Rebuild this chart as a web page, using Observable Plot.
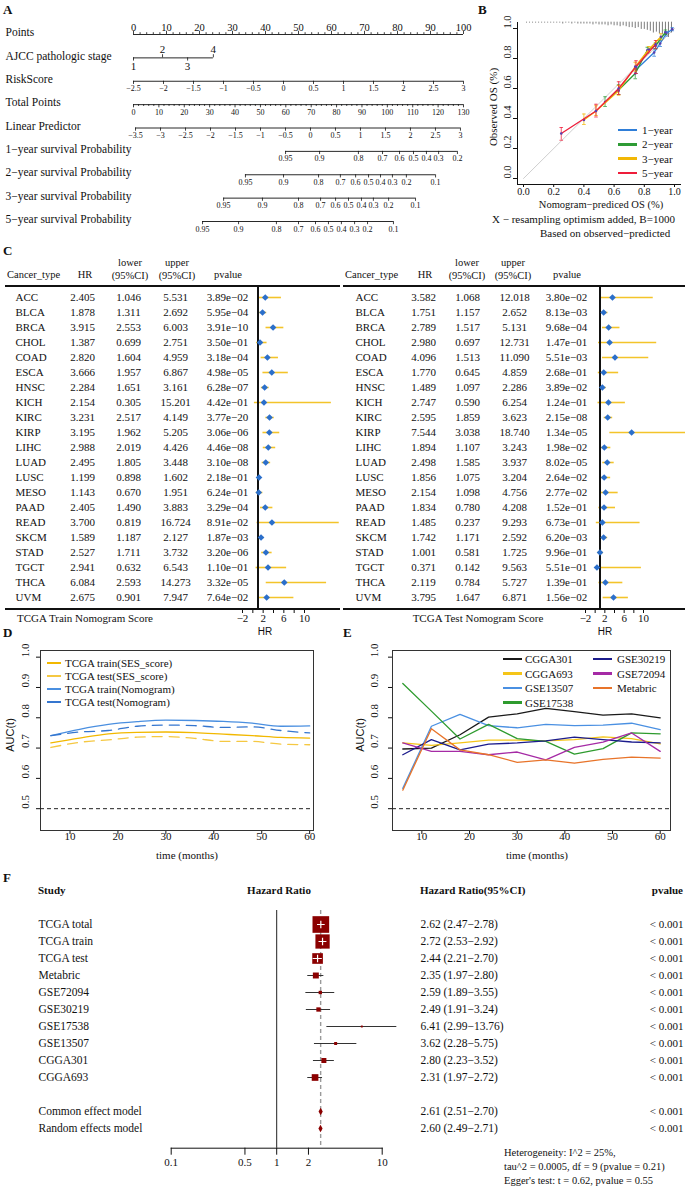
<!DOCTYPE html>
<html><head><meta charset="utf-8">
<script src="https://cdn.jsdelivr.net/npm/d3@7"></script>
<script src="https://cdn.jsdelivr.net/npm/@observablehq/plot@0.6"></script>
<style>
html,body{margin:0;padding:0;background:#fff;}
#root{position:relative;width:685px;height:1188px;overflow:hidden;background:#fff;font-family:'Liberation Serif','Times New Roman',serif;color:#111;}
.lbl{position:absolute;white-space:nowrap;line-height:1;}
#root svg{overflow:visible;}
</style></head><body><div id="root"></div>
<script>
const SERIF = "'Liberation Serif','DejaVu Serif',serif";
const SANS = "'Liberation Sans','DejaVu Sans',sans-serif";
const root = document.getElementById("root");

// ================= DATA =================
// Panel A nomogram
const nomoRows = ["Points","AJCC pathologic stage","RiskScore","Total Points","Linear Predictor",
  "1−year survival Probability","2−year survival Probability","3−year survival Probability","5−year survival Probability"];
const pointsTicks = [0,10,20,30,40,50,60,70,80,90,100];
const stageLabels = ["1","2","3","4"];
const stagePoints = [0, 8.8, 16.4, 24.2];
const riskTicks = [-2.5,-2,-1.5,-1,-0.5,0,0.5,1,1.5,2,2.5,3];
const totalTicks = [0,10,20,30,40,50,60,70,80,90,100,110,120,130];
const lpTicks = [-3.5,-3,-2.5,-2,-1.5,-1,-0.5,0,0.5,1,1.5,2,2.5,3];
const lpTotalSpan = [0.8, 128.8];
const surv1Labels = [0.95,0.9,0.8,0.7,0.6,0.5,0.4,0.3,0.2];
const surv1Total = [59.9,73.3,88.6,98.1,104.8,110.3,115.4,120.2,127.6];
const survLabels = [0.95,0.9,0.8,0.7,0.6,0.5,0.4,0.3,0.2,0.1];
const surv2Total = [44.1,59.1,72.9,81.5,87.5,92.6,97.3,102.0,107.5,119.0];
const surv3Total = [35.5,50.8,65.0,73.7,79.6,84.7,89.8,94.5,100.5,111.1];
const surv5Total = [27.2,41.4,56.3,65.0,71.7,76.8,81.9,87.1,92.2,102.4];

// Panel B calibration
const calYears = ["1−year","2−year","3−year","5−year"];
const calColors = ["#2F7ED8","#2E9B35","#F2B705","#EE1D3A"];
const cal1Pred = [0.745,0.865,0.905,0.945,0.985];
const cal1Obs  = [0.725,0.840,0.900,0.965,0.995];
const cal1Lo   = [0.700,0.815,0.880,0.950,0.985];
const cal1Hi   = [0.750,0.865,0.920,0.980,1.005];
const cal2Pred = [0.540,0.630,0.740,0.820,0.875,0.940];
const cal2Obs  = [0.510,0.590,0.700,0.855,0.885,0.975];
const cal2Lo   = [0.480,0.560,0.665,0.835,0.865,0.960];
const cal2Hi   = [0.545,0.625,0.735,0.875,0.905,0.990];
const cal3Pred = [0.400,0.480,0.630,0.740,0.830,0.910];
const cal3Obs  = [0.390,0.450,0.585,0.745,0.860,0.945];
const cal3Lo   = [0.360,0.420,0.555,0.715,0.840,0.925];
const cal3Hi   = [0.430,0.485,0.620,0.775,0.880,0.965];
const cal5Pred = [0.250,0.480,0.630,0.745,0.875];
const cal5Obs  = [0.300,0.450,0.600,0.745,0.895];
const cal5Lo   = [0.255,0.410,0.560,0.700,0.865];
const cal5Hi   = [0.340,0.495,0.645,0.785,0.920];
const rugBins = d3.range(0.02, 0.99, 0.02);
const rugCounts = [1,1,1,1,1,1,1,1,1,1, 1,1,2,1,1,2,1,2,2,2, 2,2,3,2,3,3,3,4,3,4, 4,5,4,5,6,6,7,6,8,8, 9,10,12,11,13,14,16,17,12];
const calTicks = [0,0.2,0.4,0.6,0.8,1];
const idealLine = [0,1];

// Panel C tables
const cancerTypes = ["ACC","BLCA","BRCA","CHOL","COAD","ESCA","HNSC","KICH","KIRC","KIRP","LIHC","LUAD","LUSC","MESO","PAAD","READ","SKCM","STAD","TGCT","THCA","UVM"];
const trainHR    = [2.405,1.878,3.915,1.387,2.820,3.666,2.284,2.154,3.231,3.195,2.988,2.495,1.199,1.143,2.405,3.700,1.589,2.527,2.941,6.084,2.675];
const trainLower = [1.046,1.311,2.553,0.699,1.604,1.957,1.651,0.305,2.517,1.962,2.019,1.805,0.898,0.670,1.490,0.819,1.187,1.711,0.632,2.593,0.901];
const trainUpper = [5.531,2.692,6.003,2.751,4.959,6.867,3.161,15.201,4.149,5.205,4.426,3.448,1.602,1.951,3.883,16.724,2.127,3.732,6.543,14.273,7.947];
const trainP     = [3.89e-2,5.95e-4,3.91e-10,3.50e-1,3.18e-4,4.98e-5,6.28e-7,4.42e-1,3.77e-20,3.06e-6,4.46e-8,3.10e-8,2.18e-1,6.24e-1,3.29e-4,8.91e-2,1.87e-3,3.20e-6,1.10e-1,3.32e-5,7.64e-2];
const testHR     = [3.582,1.751,2.789,2.980,4.096,1.770,1.489,2.747,2.595,7.544,1.894,2.498,1.856,2.154,1.834,1.485,1.742,1.001,0.371,2.119,3.795];
const testLower  = [1.068,1.157,1.517,0.697,1.513,0.645,1.097,0.590,1.859,3.038,1.107,1.585,1.075,1.098,0.780,0.237,1.171,0.581,0.142,0.784,1.647];
const testUpper  = [12.018,2.652,5.131,12.731,11.090,4.859,2.286,6.254,3.623,18.740,3.243,3.937,3.204,4.756,4.208,9.293,2.592,1.725,9.563,5.727,6.871];
const testP      = [3.80e-2,8.13e-3,9.68e-4,1.47e-1,5.51e-3,2.68e-1,3.89e-2,1.24e-1,2.15e-8,1.34e-5,1.98e-2,8.02e-5,2.64e-2,2.77e-2,1.52e-1,6.73e-1,6.20e-3,9.96e-1,5.51e-1,1.39e-1,1.56e-2];
const hrTicks = [-2,0,2,4,6,8,10];
const hrTickLabels = [-2,2,6,10];

// Panel D / E time-dependent AUC
const aucTimes = [6,12,18,24,30,36,42,48,54,60];
const aucXTicks = [10,20,30,40,50,60];
const aucYTicks = [0.5,0.6,0.7,0.8,0.9,1.0];
const dNames = ["TCGA train(SES_score)","TCGA test(SES_score)","TCGA train(Nomogram)","TCGA test(Nomogram)"];
const dColors = ["#F2B800","#F5C842","#4A8FE0","#3576CF"];
const dDashed = [false,true,false,true];
const trainSES   = [0.717,0.733,0.747,0.752,0.753,0.751,0.746,0.741,0.735,0.733];
const testSES    = [0.702,0.719,0.727,0.736,0.738,0.732,0.722,0.722,0.713,0.711];
const trainNomo  = [0.741,0.762,0.778,0.787,0.792,0.791,0.788,0.782,0.772,0.773];
const testNomo   = [0.741,0.753,0.758,0.772,0.776,0.774,0.768,0.770,0.758,0.750];
const eNames = ["CGGA301","CGGA693","GSE13507","GSE17538","GSE30219","GSE72094","Metabric"];
const eColors = ["#1A1A1A","#F5C518","#4A90E2","#2E9B2E","#1C1C8C","#A52AA5","#E8742A"];
const aucCGGA301  = [0.697,0.700,0.744,0.802,0.813,0.831,0.820,0.809,0.813,0.800];
const aucCGGA693  = [0.717,0.709,0.717,0.726,0.726,0.724,0.728,0.737,0.731,0.714];
const aucGSE13507 = [0.567,0.772,0.811,0.774,0.767,0.778,0.774,0.776,0.782,0.761];
const aucGSE17538 = [0.913,0.822,0.730,0.778,0.731,0.722,0.680,0.698,0.750,0.747];
const aucGSE30219 = [0.678,0.728,0.694,0.713,0.717,0.724,0.736,0.728,0.720,0.717];
const aucGSE72094 = [0.717,0.689,0.689,0.678,0.687,0.661,0.702,0.720,0.750,0.689];
const aucMetabric = [0.561,0.764,0.694,0.678,0.653,0.661,0.650,0.663,0.670,0.667];

// Panel F meta-analysis forest
const studies = ["TCGA total","TCGA train","TCGA test","Metabric","GSE72094","GSE30219","GSE17538","GSE13507","CGGA301","CGGA693"];
const studyHR = [2.62,2.72,2.44,2.35,2.59,2.49,6.41,3.62,2.80,2.31];
const studyLo = [2.47,2.53,2.21,1.97,1.89,1.91,2.99,2.28,2.23,1.97];
const studyHi = [2.78,2.92,2.70,2.80,3.55,3.24,13.76,5.75,3.52,2.72];
const studyWeight = [37.4,27.4,15.3,4.8,1.5,2.5,0.5,1.2,3.4,6.0];
const models = ["Common effect model","Random effects model"];
const modelHR = [2.61,2.60];
const modelLo = [2.51,2.49];
const modelHi = [2.70,2.71];
const pLabel = "< 0.001";
const forestTicks = [0.1,0.5,1,2,10];

// ================= HELPERS =================
function label(text, x, y, o = {}) {
  const d = document.createElement("div");
  d.className = "lbl";
  d.textContent = text;
  d.style.left = x + "px"; d.style.top = y + "px";
  d.style.fontSize = (o.size || 11) + "px";
  d.style.fontFamily = o.family || SERIF;
  if (o.weight) d.style.fontWeight = o.weight;
  if (o.color) d.style.color = o.color;
  const tx = o.anchor === "middle" ? "-50%" : o.anchor === "end" ? "-100%" : "0";
  d.style.transform = `translate(${tx},-50%)` + (o.rotate ? ` rotate(${o.rotate}deg)` : "");
  root.appendChild(d);
}
function hline(x, y, w, t, color = "#111") {
  const d = document.createElement("div");
  d.style.cssText = `position:absolute;left:${x}px;top:${y - t / 2}px;width:${w}px;height:${t}px;background:${color};`;
  root.appendChild(d);
}
function place(el, x, y) {
  el.style.position = "absolute"; el.style.left = x + "px"; el.style.top = y + "px";
  root.appendChild(el);
}
const baseStyle = (size) => ({fontFamily: SERIF, fontSize: size + "px", background: "transparent", overflow: "visible", color: "#111"});
const minus = (v) => (v < 0 ? "−" + String(-v) : String(v));
function fmtP(p) {
  const [m, e] = p.toExponential(2).split("e");
  const n = +e;
  return m + "e" + (n < 0 ? "−" : "+") + String(Math.abs(n)).padStart(2, "0");
}

// ================= PANEL A =================
{
  const toPts = (total) => total * 100 / totalTicks[totalTicks.length - 1];
  const riskPts = (v) => (v - riskTicks[0]) / (riskTicks[riskTicks.length - 1] - riskTicks[0]) * 100;
  const lpPts = (v) => toPts(lpTotalSpan[0] + (v - lpTicks[0]) / (lpTicks[lpTicks.length - 1] - lpTicks[0]) * (lpTotalSpan[1] - lpTotalSpan[0]));
  const ticks = [];
  pointsTicks.forEach(v => ticks.push({row: 0, pos: v, label: String(v), side: -1}));
  d3.range(0, 101, 2).filter(v => !pointsTicks.includes(v)).forEach(v => ticks.push({row: 0, pos: v, label: null, side: -1, minor: true}));
  stageLabels.forEach((s, i) => ticks.push({row: 1, pos: stagePoints[i], label: s, side: i % 2 ? -1 : 1}));
  riskTicks.forEach(v => ticks.push({row: 2, pos: riskPts(v), label: minus(v), side: 1}));
  totalTicks.forEach(v => ticks.push({row: 3, pos: toPts(v), label: String(v), side: 1}));
  d3.range(0, 131, 2).filter(v => !totalTicks.includes(v)).forEach(v => ticks.push({row: 3, pos: toPts(v), label: null, side: 1, minor: true}));
  lpTicks.forEach(v => ticks.push({row: 4, pos: lpPts(v), label: minus(v), side: 1}));
  surv1Labels.forEach((v, i) => ticks.push({row: 5, pos: toPts(surv1Total[i]), label: String(v), side: 1}));
  survLabels.forEach((v, i) => ticks.push({row: 6, pos: toPts(surv2Total[i]), label: String(v), side: 1}));
  survLabels.forEach((v, i) => ticks.push({row: 7, pos: toPts(surv3Total[i]), label: String(v), side: 1}));
  survLabels.forEach((v, i) => ticks.push({row: 8, pos: toPts(surv5Total[i]), label: String(v), side: 1}));
  const lines = d3.rollups(ticks, v => d3.extent(v, d => d.pos), d => d.row).map(([row, [a, b]]) => ({row, from: a, to: b}));
  const rowPx = (221 - 34) / 8;
  const labeled = ticks.filter(d => d.label !== null);
  const A = Plot.plot({
    width: 470, height: 235, marginLeft: 0, marginRight: 0, marginTop: 0, marginBottom: 0,
    style: baseStyle(11),
    x: {domain: [0, 100], range: [133, 463], axis: null},
    y: {domain: [0, 8], range: [34, 221], axis: null},
    marks: [
      Plot.ruleY(lines, {y: "row", x1: "from", x2: "to", strokeWidth: 0.9}),
      Plot.ruleX(ticks, {x: "pos", y1: "row", y2: d => d.row + d.side * (d.minor ? 1.8 : 3.2) / rowPx, strokeWidth: 0.8}),
      Plot.text(labeled.filter(d => d.row === 0), {x: "pos", y: "row", text: "label", dy: -7, fontSize: 10.5}),
      Plot.text(labeled.filter(d => d.row === 1 && d.side < 0), {x: "pos", y: "row", text: "label", dy: -8, fontSize: 11}),
      Plot.text(labeled.filter(d => d.row === 1 && d.side > 0), {x: "pos", y: "row", text: "label", dy: 8.5, fontSize: 11}),
      Plot.text(labeled.filter(d => d.row > 1), {x: "pos", y: "row", text: "label", dy: 7.5, fontSize: 8}),
      Plot.text(nomoRows, {y: (d, i) => i, text: d => d, frameAnchor: "left", dx: 5, dy: -2, textAnchor: "start", fontSize: 11.5})
    ]
  });
  place(A, 0, 0);
  label("A", 3, 9, {weight: "bold", size: 13});
}

// ================= PANEL B =================
{
  const preds = [cal1Pred, cal2Pred, cal3Pred, cal5Pred];
  const obs = [cal1Obs, cal2Obs, cal3Obs, cal5Obs];
  const los = [cal1Lo, cal2Lo, cal3Lo, cal5Lo];
  const his = [cal1Hi, cal2Hi, cal3Hi, cal5Hi];
  const series = calYears.map((yr, k) => ({
    color: calColors[k],
    pts: preds[k].map((p, i) => ({pred: p, obs: obs[k][i], lo: los[k][i], hi: his[k][i]}))
  }));
  const rug = rugBins.map((x, i) => ({x, n: rugCounts[i]}));
  const rugTop = 1.042;
  const cap = 0.012;
  const B = Plot.plot({
    width: 210, height: 240, marginLeft: 42, marginRight: 5, marginTop: 22, marginBottom: 56,
    style: baseStyle(10),
    x: {domain: [0, 1], insetLeft: 6, insetRight: 6, ticks: calTicks, tickFormat: d3.format(".1f"), tickSize: 3, tickPadding: 0, line: true, label: null},
    y: {domain: [0, 1], insetTop: 6, insetBottom: 6, ticks: calTicks, tickFormat: () => "", tickSize: 4, line: true, label: null},
    marks: [
      Plot.line(idealLine, {x: d => d, y: d => d, stroke: "#cfcfcf", strokeWidth: 1}),
      Plot.ruleX(rug, {x: "x", y1: rugTop, y2: d => rugTop - d.n * 0.006, strokeWidth: 0.6, stroke: "#222"}),
      ...series.flatMap(s => [
        Plot.ruleX(s.pts, {x: "pred", y1: "lo", y2: "hi", stroke: s.color, strokeOpacity: 0.75}),
        Plot.link(s.pts, {x1: d => d.pred - cap, x2: d => d.pred + cap, y1: "lo", y2: "lo", stroke: s.color, strokeOpacity: 0.75}),
        Plot.link(s.pts, {x1: d => d.pred - cap, x2: d => d.pred + cap, y1: "hi", y2: "hi", stroke: s.color, strokeOpacity: 0.75}),
        Plot.line(s.pts, {x: "pred", y: "obs", stroke: s.color, strokeWidth: 1.3}),
        Plot.dot(s.pts, {x: "pred", y: "obs", r: 1.3, fill: "#5b3fb0"})
      ]),
      Plot.text(calTicks, {y: d => d, frameAnchor: "left", dx: -10, rotate: -90, text: d => d.toFixed(1), fontSize: 10.5})
    ]
  });
  place(B, 475, 0);
  label("B", 478, 9, {weight: "bold", size: 13});
  label("Observed OS (%)", 493, 107, {anchor: "middle", rotate: -90, size: 11});
  label("Nomogram−prediced OS (%)", 601, 205, {anchor: "middle", size: 10.5});
  label("X − resampling optimism added, B=1000", 492, 219, {size: 11});
  label("Based on observed−predicted", 540, 232.5, {size: 11});
  calYears.forEach((yr, i) => {
    const y = 130 + i * 14.3;
    hline(618, y, 19, 2.5, calColors[i]);
    label(yr, 642, y, {size: 11});
  });
}

// ================= PANEL C =================
function tablePlot(hr, lo, hi, p, o) {
  const rows = cancerTypes.map((name, i) => ({name, hr: hr[i], lo: lo[i], hi: hi[i], p: p[i]}));
  const col = (text, dx, anchor) => Plot.text(rows, {y: "name", text, frameAnchor: "left", dx, textAnchor: anchor, fontSize: 11});
  return Plot.plot({
    width: o.width, height: 390, marginLeft: o.marginLeft, marginRight: 0, marginTop: 36, marginBottom: 31,
    style: baseStyle(11),
    x: {domain: [-2, 10], range: o.range, ticks: hrTicks, tickFormat: d => hrTickLabels.includes(d) ? minus(d) : "", tickSize: 4, tickPadding: 1, label: null},
    y: {type: "point", domain: cancerTypes, range: [43, 350], padding: 0, axis: null},
    marks: [
      Plot.ruleY(rows, {y: "name", x1: "lo", x2: "hi", stroke: "#F3C42A", strokeWidth: 1.6, clip: true}),
      Plot.ruleX([1], {strokeWidth: 2, stroke: "#111"}),
      Plot.dot(rows, {x: "hr", y: "name", symbol: "diamond2", r: 3, fill: "#2B6FCB", clip: true}),
      col("name", o.cols[0], "start"),
      col(d => d.hr.toFixed(3), o.cols[1], "middle"),
      col(d => d.lo.toFixed(3), o.cols[2], "middle"),
      col(d => d.hi.toFixed(3), o.cols[3], "middle"),
      col(d => fmtP(d.p), o.cols[4], "middle")
    ]
  });
}
{
  const L = tablePlot(trainHR, trainLower, trainUpper, trainP, {width: 340, marginLeft: 5, range: [242, 304], cols: [10, 77, 123, 170, 222]});
  place(L, 0, 250);
  const R = tablePlot(testHR, testLower, testUpper, testP, {width: 345, marginLeft: 3, range: [245, 303], cols: [12, 80, 124, 171, 223]});
  place(R, 340, 250);
  label("C", 3, 250, {weight: "bold", size: 13});
  const hdr = (x0, xs) => {
    label("Cancer_type", x0, 275, {size: 10.5});
    label("HR", xs[0], 275, {anchor: "middle", size: 10.5});
    label("lower", xs[1], 263, {anchor: "middle", size: 10.5});
    label("(95%CI)", xs[1], 276, {anchor: "middle", size: 10.5});
    label("upper", xs[2], 263, {anchor: "middle", size: 10.5});
    label("(95%CI)", xs[2], 276, {anchor: "middle", size: 10.5});
    label("pvalue", xs[3], 275, {anchor: "middle", size: 10.5});
  };
  hdr(7, [85, 130, 177, 228]);
  hdr(345, [425, 467, 513, 567]);
  hline(5, 286, 335, 2);
  hline(5, 609, 335, 2);
  hline(343, 286, 342, 2);
  hline(343, 609, 342, 2);
  label("TCGA Train Nomogram Score", 85, 618, {anchor: "middle", size: 11});
  label("TCGA Test Nomogram Score", 478, 618, {anchor: "middle", size: 11});
  label("HR", 265, 632, {anchor: "middle", size: 10, family: SANS});
  label("HR", 605, 632, {anchor: "middle", size: 10, family: SANS});
}

// ================= PANELS D & E =================
function aucPlot(series, o) {
  return Plot.plot({
    width: o.width, height: 225, marginLeft: o.marginLeft, marginRight: o.marginRight, marginTop: 10, marginBottom: 35,
    style: baseStyle(11),
    x: {domain: o.xDomain, ticks: aucXTicks, tickSize: 4, tickFormat: () => "", label: null},
    y: {domain: [0.428, 1.022], ticks: aucYTicks, tickSize: 4, tickFormat: () => "", label: null},
    marks: [
      Plot.frame({stroke: "#333"}),
      Plot.ruleY([0.5], {stroke: "#222", strokeDasharray: "4,3"}),
      ...series.map(s => Plot.line(aucTimes.map((t, i) => ({t, v: s.values[i]})), {
        x: "t", y: "v", stroke: s.color, strokeWidth: 1.3, curve: o.curve,
        strokeDasharray: s.dashed ? "10,7" : null
      })),
      Plot.text(aucXTicks, {x: d => d, text: d => String(d), frameAnchor: "bottom", dy: 9, fontSize: 11}),
      Plot.text(aucYTicks, {y: d => d, text: d => d.toFixed(1), frameAnchor: "left", dx: o.yLabelDx, rotate: -90, fontSize: 11})
    ]
  });
}
{
  const dVals = [trainSES, testSES, trainNomo, testNomo];
  const D = aucPlot(dNames.map((n, i) => ({color: dColors[i], dashed: dDashed[i], values: dVals[i]})),
    {width: 340, marginLeft: 40, marginRight: 27, xDomain: [3.84, 60.8], curve: "monotone-x", yLabelDx: -15});
  place(D, 0, 640);
  label("D", 3, 632, {weight: "bold", size: 13});
  label("AUC(t)", 10, 735, {anchor: "middle", rotate: -90, size: 11, family: SANS});
  label("time (months)", 187, 855, {anchor: "middle", size: 11});
  dNames.forEach((n, i) => {
    const y = 663 + i * 13;
    hline(47, y, 14, 2.5, dColors[i]);
    label(n, 65, y, {size: 11});
  });

  const eVals = [aucCGGA301, aucCGGA693, aucGSE13507, aucGSE17538, aucGSE30219, aucGSE72094, aucMetabric];
  const E = aucPlot(eNames.map((n, i) => ({color: eColors[i], dashed: false, values: eVals[i]})),
    {width: 345, marginLeft: 52, marginRight: 15, xDomain: [3.84, 62.16], curve: "linear", yLabelDx: -18.5});
  place(E, 340, 640);
  label("E", 343, 632, {weight: "bold", size: 13});
  label("AUC(t)", 360, 735, {anchor: "middle", rotate: -90, size: 11, family: SANS});
  label("time (months)", 537, 855, {anchor: "middle", size: 11});
  eNames.forEach((n, i) => {
    const colI = i < 4 ? 0 : 1;
    const rowI = i < 4 ? i : i - 4;
    const y = 659 + rowI * 14.5;
    const x0 = colI ? 593 : 503;
    hline(x0, y, 19, 2.5, eColors[i]);
    label(n, x0 + (colI ? 24 : 22), y, {size: 11});
  });
}

// ================= PANEL F =================
{
  const sRows = studies.map((name, i) => ({name, hr: studyHR[i], lo: studyLo[i], hi: studyHi[i], w: studyWeight[i], p: pLabel}));
  const mRows = models.map((name, i) => ({name, hr: modelHR[i], lo: modelLo[i], hi: modelHi[i], p: pLabel}));
  const allRows = sRows.concat(mRows);
  const big = sRows.filter(d => d.w > 10);
  const fLeft = 170.7;
  const F = Plot.plot({
    width: 685, height: 323, marginLeft: fLeft, marginRight: 685 - 381.7, marginTop: 45, marginBottom: 40.3,
    style: baseStyle(11),
    x: {type: "log", domain: [0.1, 10], ticks: forestTicks, tickFormat: d => String(d), tickSize: 7, tickPadding: 3, line: true, label: null},
    y: {type: "point", domain: [...studies, " ", ...models], range: [52.7, 268.3], padding: 0, axis: null},
    r: {domain: [0, d3.max(studyWeight)], range: [0, 9.4]},
    marks: [
      Plot.ruleX([1], {stroke: "#222"}),
      Plot.ruleX([modelHR[0]], {stroke: "#9a9a9a", strokeDasharray: "4,3", strokeWidth: 1.4}),
      Plot.ruleY(sRows, {y: "name", x1: "lo", x2: "hi", stroke: "#333", strokeWidth: 1}),
      Plot.dot(sRows, {x: "hr", y: "name", r: "w", symbol: "square", fill: "#8B0000"}),
      Plot.ruleY(big, {y: "name", x1: "lo", x2: "hi", stroke: "white", strokeWidth: 1}),
      Plot.dot(big, {x: "hr", y: "name", symbol: "plus", r: 2.6, stroke: "white", strokeWidth: 1.2}),
      Plot.dot(mRows, {x: "hr", y: "name", symbol: "diamond", r: 2.2, fill: "#8B0000"}),
      Plot.text(allRows, {y: "name", text: "name", frameAnchor: "left", dx: 38 - fLeft, textAnchor: "start", fontSize: 11.5}),
      Plot.text(allRows, {y: "name", text: d => `${d.hr.toFixed(2)} (${d.lo.toFixed(2)}−${d.hi.toFixed(2)})`, frameAnchor: "left", dx: 420 - fLeft, textAnchor: "start", fontSize: 11.5}),
      Plot.text(allRows, {y: "name", text: "p", frameAnchor: "left", dx: 683 - fLeft, textAnchor: "end", fontSize: 11})
    ]
  });
  place(F, 0, 865);
  label("F", 3, 877, {weight: "bold", size: 13});
  label("Study", 38, 890, {weight: "bold", size: 11});
  label("Hazard Ratio", 279, 890, {weight: "bold", size: 11, anchor: "middle"});
  label("Hazard Ratio(95%CI)", 420, 890, {weight: "bold", size: 11});
  label("pvalue", 683, 890, {weight: "bold", size: 11, anchor: "end"});
  label("Heterogeneity: I^2 = 25%,", 504, 1153, {size: 10.5});
  label("tau^2 = 0.0005, df = 9 (pvalue = 0.21)", 504, 1167, {size: 10.5});
  label("Egger's test: t = 0.62, pvalue = 0.55", 504, 1181, {size: 10.5});
}
</script></body></html>
